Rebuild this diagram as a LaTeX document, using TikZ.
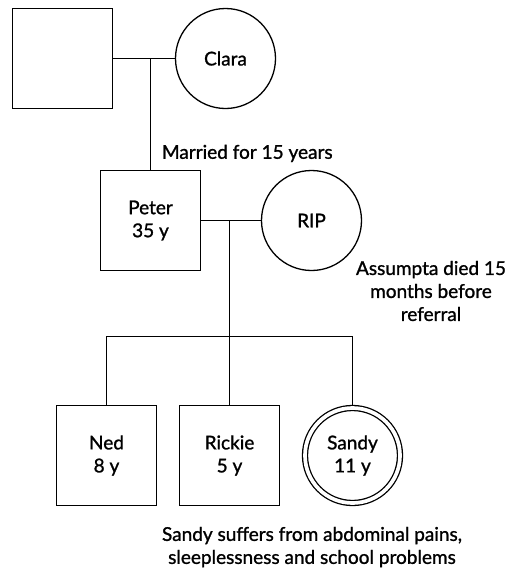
\documentclass[tikz,border=0pt]{standalone}
\usepackage{fontspec}
\setmainfont{Lato}[FakeBold=1.2]
\usetikzlibrary{positioning, calc}
\tikzset{
  every picture/.style={line width=1.3pt},
  male/.style={draw, rectangle, minimum size=100pt, inner sep=0pt, align=center},
  female/.style={draw, circle, minimum size=100pt, inner sep=0pt, align=center},
  index/.style={female, minimum size=95pt, double, double distance=3.7pt, outer sep=2.5pt},
  note/.style={align=center},
}

\begin{document}
\begin{tikzpicture}[x=1pt, y=-1pt, every node/.append style={font=\fontsize{19}{23}\selectfont}]
  \useasboundingbox (0,0) rectangle (509,568);
  \node[male] (grandpa) at (62.5,58.5) {};
  \node[female] (clara) at (225.5,58.5) {Clara};
  \node[male] (peter) at (150.5,220.5) {Peter\\35 y};
  \node[female] (rip) at (311.5,220.5) {RIP};
  \node[male] (ned) at (106.5,455.5) {Ned\\8 y};
  \node[male] (rickie) at (229.5,455.5) {Rickie\\5 y};
  \node[index] (sandy) at (352.5,455.5) {Sandy\\11 y};
  \coordinate (bar) at (0,336.5);
  \draw (grandpa) -- (clara);
  \draw (peter) -- (peter |- grandpa);
  \draw (peter) -- (rip);
  \draw (rickie) -- (rickie |- rip);
  \draw (ned) |- (bar -| sandy) -- (sandy);
  \node[note, anchor=south west] (married) at (158,166) {Married for 15 years};
  \node[note] (died) at (431,291) {Assumpta died 15\\months before\\referral};
  \node[note] (symptoms) at (312,547) {Sandy suffers from abdominal pains,\\sleeplessness and school problems};
\end{tikzpicture}
\end{document}
